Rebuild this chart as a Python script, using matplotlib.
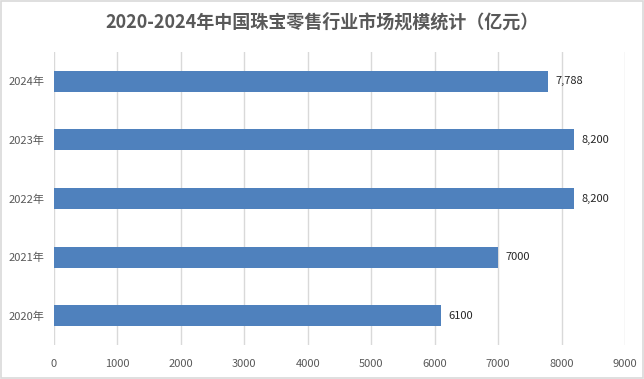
import matplotlib
matplotlib.use("Agg")
import matplotlib.pyplot as plt
from matplotlib.patches import Rectangle

plt.rcParams['font.family'] = ['Noto Sans CJK SC', 'DejaVu Sans']

years = ["2020年", "2021年", "2022年", "2023年", "2024年"]
values = [6100, 7000, 8200, 8200, 7788]
value_labels = ["6100", "7000", "8,200", "8,200", "7,788"]
xticks = list(range(0, 10000, 1000))

fig = plt.figure(figsize=(6.44, 3.79), dpi=100)
ax = fig.add_axes([0.0839, 0.0897, 0.8866, 0.7731])

bar_color = "#4F81BD"
grid_color = "#D9D9D9"
text_color = "#595959"

ypos = list(range(len(years)))
ax.barh(ypos, values, height=0.36, color=bar_color, zorder=2)
for y, v, lab in zip(ypos, values, value_labels):
    ax.text(v + 110, y, lab, va="center", ha="left", fontsize=8, color="#262626")

ax.set_xlim(0, 9000)
ax.set_ylim(-0.5, 4.5)
ax.set_xticks(xticks)
ax.set_xticklabels([str(t) for t in xticks], fontsize=8, color=text_color)
ax.set_yticks(ypos)
ax.set_yticklabels(years, fontsize=8, color=text_color)
ax.tick_params(axis="both", length=0, pad=7)
ax.tick_params(axis="x", pad=10)
ax.xaxis.grid(True, color=grid_color, linewidth=1, zorder=0)
ax.set_axisbelow(True)
for s in ax.spines.values():
    s.set_visible(False)

fig.text(0.5, 0.942, "2020-2024年中国珠宝零售行业市场规模统计（亿元）",
         ha="center", va="center", fontsize=13, fontweight="bold", color=text_color)

fig.patches.append(Rectangle((0.001, 0.002), 0.997, 0.995, transform=fig.transFigure,
                             fill=False, edgecolor=grid_color, linewidth=1.2))

fig.savefig("out.png", dpi=100)
